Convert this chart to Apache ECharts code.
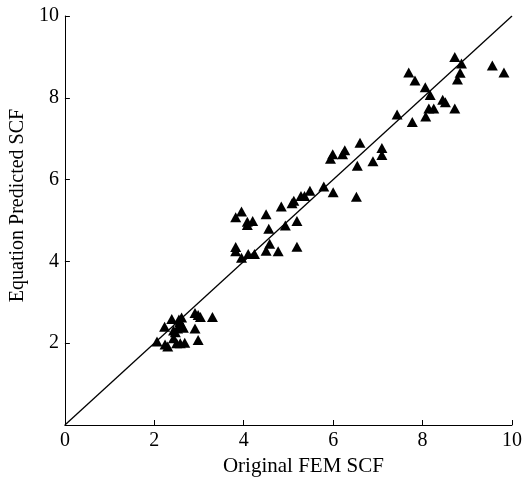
<!DOCTYPE html>
<html>
<head>
<meta charset="utf-8">
<script src="https://cdn.jsdelivr.net/npm/echarts@6/dist/echarts.min.js"></script>
<style>html,body{margin:0;padding:0;background:#fff}#c{width:529px;height:482px}</style>
</head>
<body>
<div id="c"></div>
<script>
// Original FEM SCF (x) vs Equation Predicted SCF (y)
const femSCF = [
  2.06,2.24,2.30,2.23,2.39,2.43,2.43,2.50,2.58,2.68,2.61,2.57,2.61,2.65,2.52,2.47,2.91,2.91,2.98,3.03,2.98,3.30,2.55,
  3.95,3.82,4.08,4.08,4.20,3.82,3.82,3.95,4.10,4.24,4.50,4.58,4.77,5.19,4.50,4.56,4.84,4.93,5.19,5.12,5.08,
  5.28,5.36,5.48,5.79,6.00,6.52,5.94,5.99,6.21,6.26,6.54,6.60,6.89,7.09,7.09,7.43,7.77,8.07,8.14,8.25,8.45,8.51,8.72,8.17,8.06,7.69,7.83,8.72,8.87,8.84,8.78,9.56,9.82
];
const predictedSCF = [
  2.04,1.97,1.92,2.40,2.59,2.31,2.12,2.00,2.00,2.01,2.63,2.52,2.44,2.38,2.36,2.27,2.36,2.74,2.69,2.64,2.08,2.64,2.58,
  5.22,5.08,4.97,4.89,4.99,4.35,4.25,4.09,4.18,4.18,4.26,4.43,4.25,4.36,5.15,4.80,5.34,4.88,4.99,5.48,5.42,
  5.60,5.60,5.73,5.83,5.69,5.58,6.51,6.62,6.62,6.72,6.34,6.90,6.45,6.77,6.60,7.59,7.41,7.54,7.74,7.74,7.95,7.89,7.74,8.07,8.26,8.62,8.42,9.00,8.84,8.61,8.45,8.79,8.62
];
const lineX = [0, 10];
const lineY = [0, 10];
const xTicks = [0, 2, 4, 6, 8, 10];
const yTicks = [0, 2, 4, 6, 8, 10];

const pts = femSCF.map((v, i) => [v, predictedSCF[i]]);
const linePts = lineX.map((v, i) => [v, lineY[i]]);
const font = 'Liberation Serif';

const chart = echarts.init(document.getElementById('c'), null, {renderer: 'canvas'});
chart.setOption({
  animation: false,
  backgroundColor: '#fff',
  grid: {left: 62.5, right: 17, top: 16, bottom: 57, containLabel: false},
  xAxis: {
    type: 'value', min: 0, max: 10, interval: 2,
    name: 'Original FEM SCF', nameLocation: 'middle', nameGap: 31,
    nameTextStyle: {fontFamily: font, fontSize: 21, color: '#000', padding: [0, 0, 0, 30]},
    axisLine: {show: true, onZero: false, lineStyle: {color: '#000', width: 1}},
    axisTick: {show: true, inside: true, length: 5, lineStyle: {color: '#000'}},
    axisLabel: {fontFamily: font, fontSize: 20, color: '#000', margin: 6,
      formatter: v => xTicks.includes(v) ? String(v) : ''},
    splitLine: {show: false}
  },
  yAxis: {
    type: 'value', min: 0, max: 10, interval: 2,
    name: 'Equation Predicted SCF', nameLocation: 'middle', nameGap: 30,
    nameTextStyle: {fontFamily: font, fontSize: 20, color: '#000', padding: [0, 0, 0, 30]},
    axisLine: {show: true, onZero: false, lineStyle: {color: '#000', width: 1}},
    axisTick: {show: true, inside: true, length: 5, lineStyle: {color: '#000'}},
    axisLabel: {fontFamily: font, fontSize: 20, color: '#000', margin: 6,
      formatter: v => (yTicks.includes(v) && v !== 0) ? String(v) : ''},
    splitLine: {show: false}
  },
  series: [
    {
      type: 'line', data: linePts, symbol: 'none',
      lineStyle: {color: '#000', width: 1.3}, z: 1
    },
    {
      type: 'scatter', data: pts, symbol: 'triangle', symbolSize: [11, 10],
      itemStyle: {color: '#000', opacity: 1}, z: 2
    }
  ]
});
</script>
</body>
</html>
